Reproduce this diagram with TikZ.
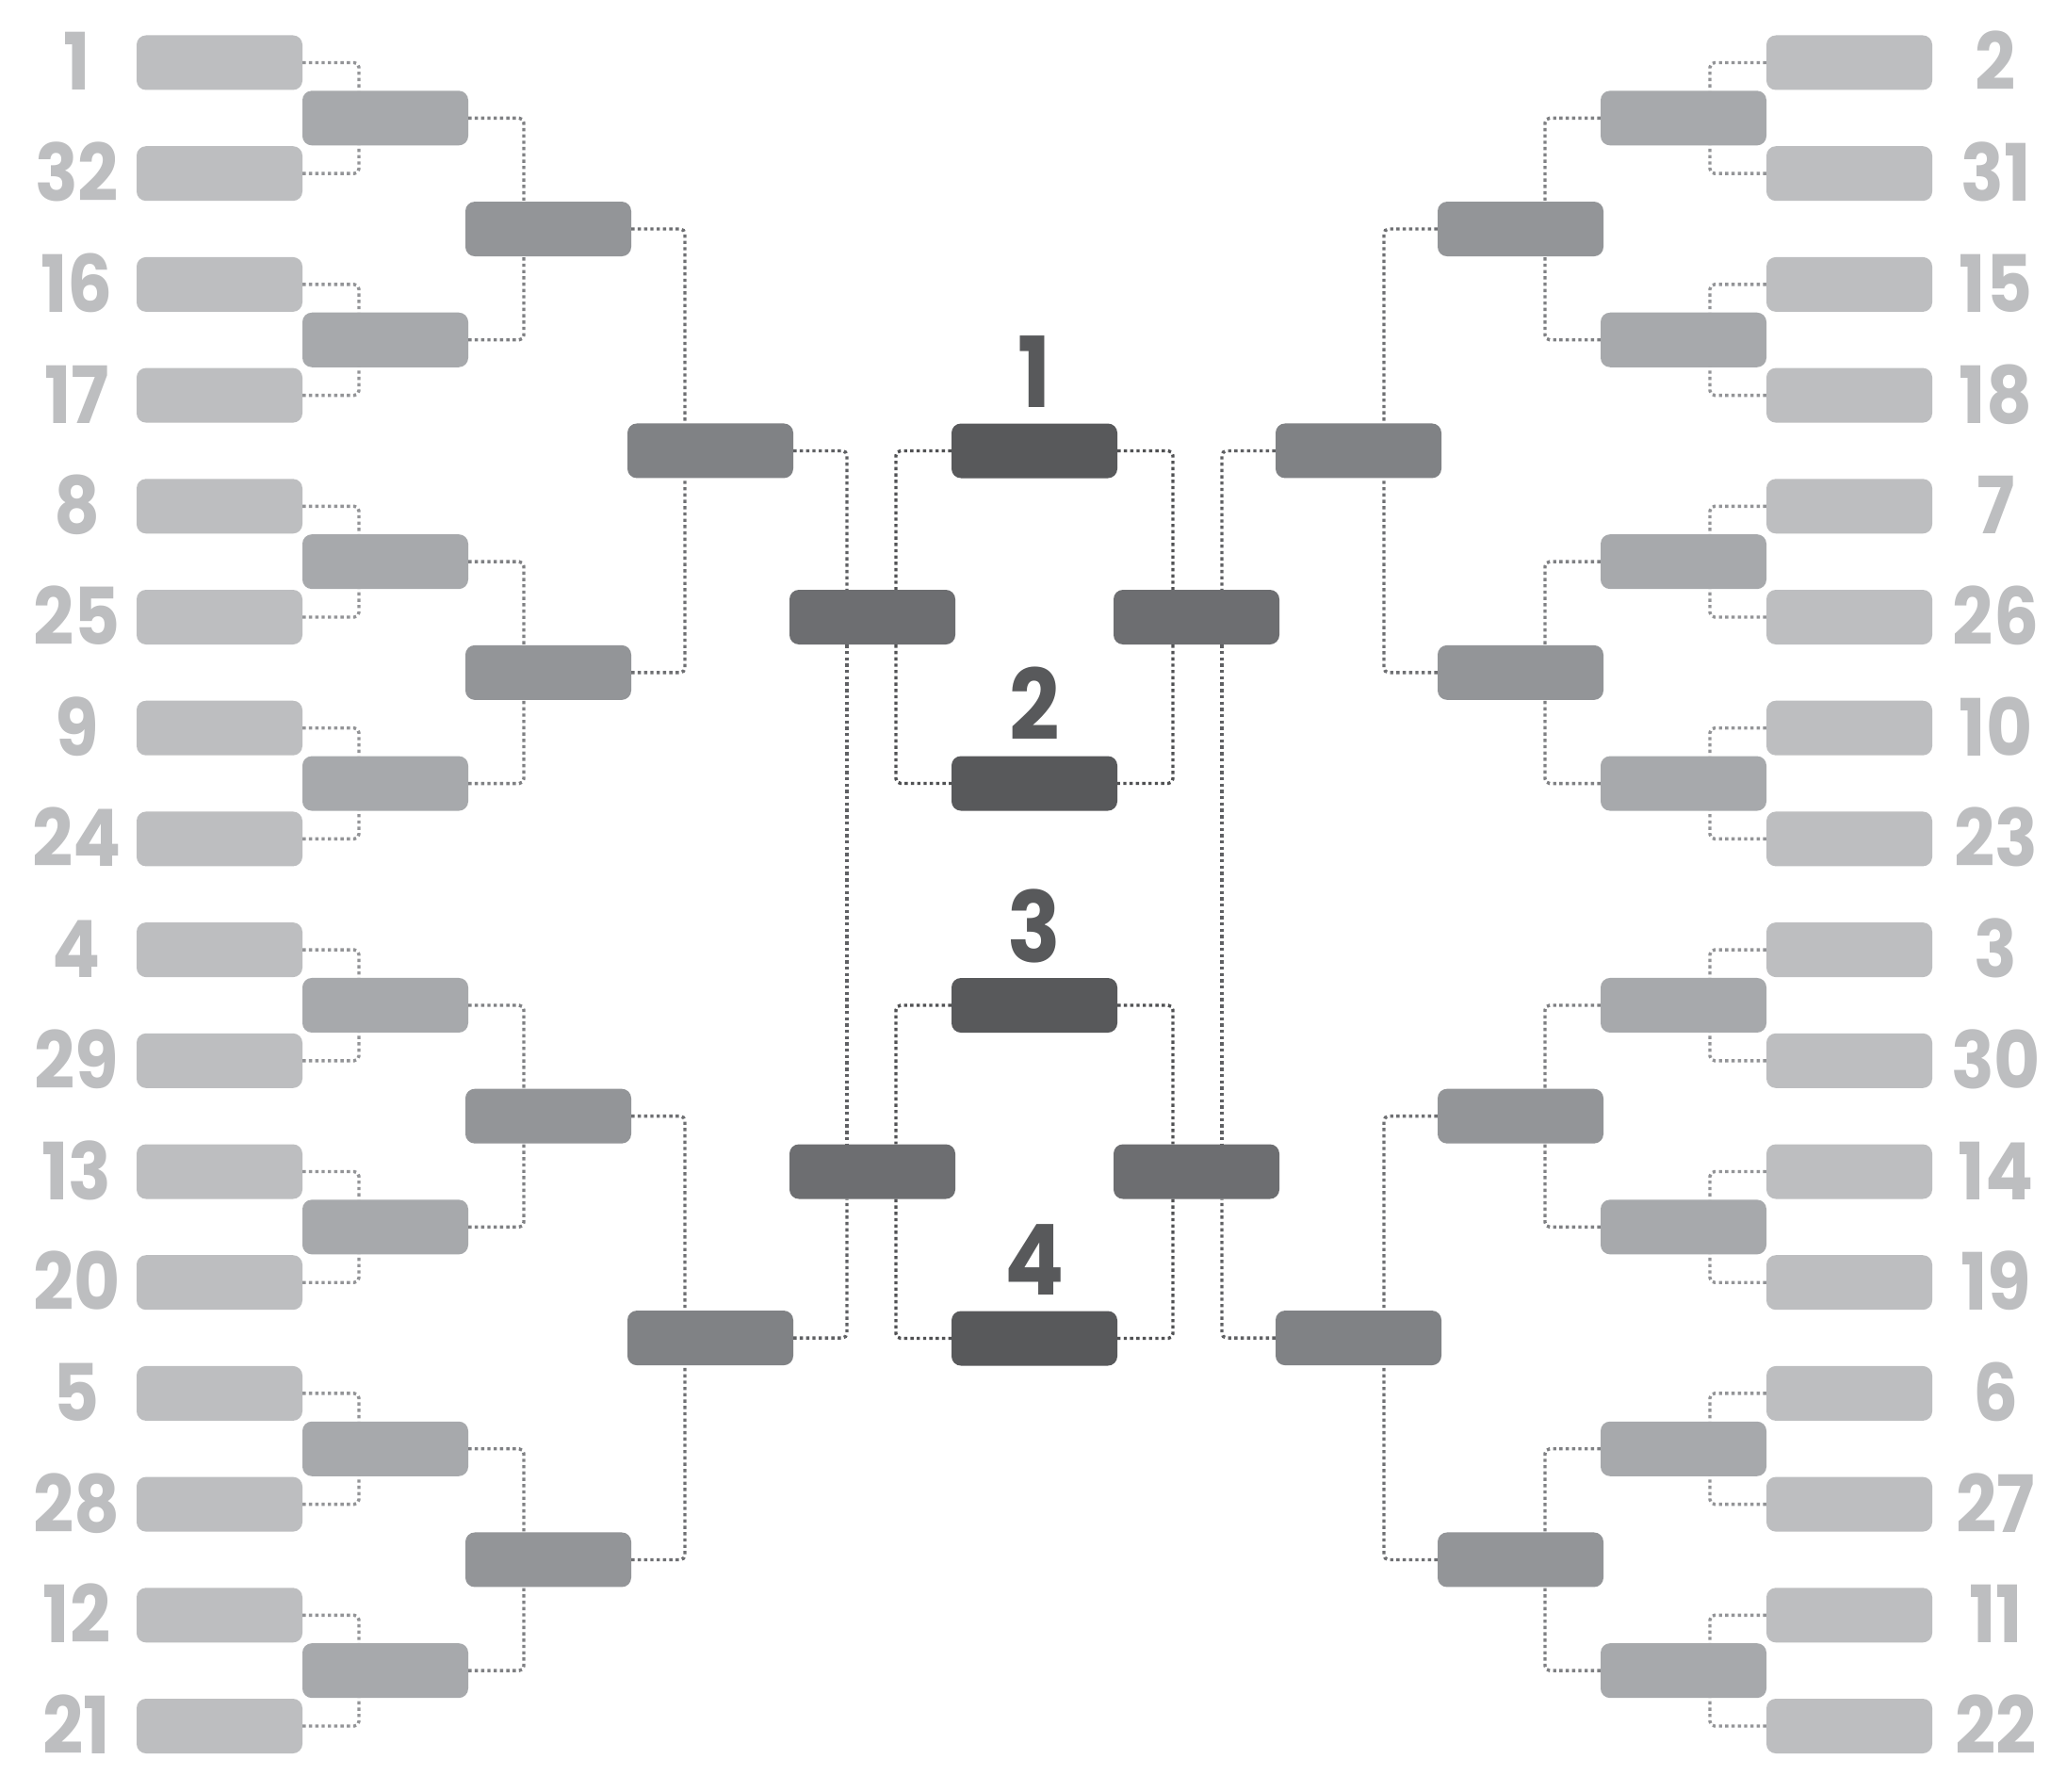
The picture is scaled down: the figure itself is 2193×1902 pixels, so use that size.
\documentclass[tikz,border=0pt]{standalone}
\usepackage{graphicx}
\usepackage{fontspec}
\newfontfamily\numfont{Poppins}
\definecolor{cA}{HTML}{BDBEC0}
\definecolor{cB}{HTML}{A7A9AC}
\definecolor{cC}{HTML}{939598}
\definecolor{cD}{HTML}{808285}
\definecolor{cE}{HTML}{6D6E71}
\definecolor{cF}{HTML}{58595B}
\definecolor{dB}{HTML}{939497}
\definecolor{dC}{HTML}{7F8083}
\definecolor{dD}{HTML}{6E6F72}
\definecolor{dE}{HTML}{5F6063}
\definecolor{dF}{HTML}{505153}
\newcommand{\narrowtxt}[1]{\scalebox{0.9}[1]{#1}}
\begin{document}
\begin{tikzpicture}[x=1pt,y=-1pt,
  box/.style={rectangle, rounded corners=10pt, minimum width=176pt, minimum height=58pt, inner sep=0pt, draw=none},
  conn/.style={line width=3.4pt, dash pattern=on 3.4pt off 3.3pt, rounded corners=5pt},
  seednum/.style={font=\numfont\bfseries\fontsize{84}{84}\selectfont, text=cA, inner sep=0pt, anchor=base},
  finalnum/.style={font=\numfont\bfseries\fontsize{104}{104}\selectfont, text=cF, inner sep=0pt, anchor=base}
]
\fill[white] (0,0) rectangle (2193,1902);
\useasboundingbox (0,0) rectangle (2193,1902);
% round 1 and seeds
\foreach \s [count=\i from 0] in {1,32,16,17,8,25,9,24,4,29,13,20,5,28,12,21} {
  \pgfmathsetmacro\yy{66.5+117.7*\i}
  \node[box, fill=cA] (L1-\i) at (233,\yy) {};
  \node[seednum] (LN-\i) at (81.5,\yy+29.5) {\narrowtxt{\s}};
}
\foreach \s [count=\i from 0] in {2,31,15,18,7,26,10,23,3,30,14,19,6,27,11,22} {
  \pgfmathsetmacro\yy{66.5+117.7*\i}
  \node[box, fill=cA] (R1-\i) at (1963,\yy) {};
  \node[seednum] (RN-\i) at (2118.5,\yy+29.5) {\narrowtxt{\s}};
}
% round 2
\foreach \k in {0,...,7} {
  \pgfmathsetmacro\yy{66.5+117.7*(2*\k+0.5)}
  \node[box, fill=cB] (L2-\k) at (409,\yy) {};
  \node[box, fill=cB] (R2-\k) at (1787,\yy) {};
}
% round 3
\foreach \k in {0,...,3} {
  \pgfmathsetmacro\yy{66.5+117.7*(4*\k+1.5)}
  \node[box, fill=cC] (L3-\k) at (582,\yy) {};
  \node[box, fill=cC] (R3-\k) at (1614,\yy) {};
}
% round 4
\foreach \k in {0,1} {
  \pgfmathsetmacro\yy{66.5+117.7*(8*\k+3.5)}
  \node[box, fill=cD] (L4-\k) at (754,\yy) {};
  \node[box, fill=cD] (R4-\k) at (1442,\yy) {};
}
% round 5
\node[box, fill=cE] (L5-0) at (926,655) {};
\node[box, fill=cE] (L5-1) at (926,1243.5) {};
\node[box, fill=cE] (R5-0) at (1270,655) {};
\node[box, fill=cE] (R5-1) at (1270,1243.5) {};
% finals
\node[box, fill=cF] (F1) at (1098,478.5) {};
\node[box, fill=cF] (F2) at (1098,831.5) {};
\node[box, fill=cF] (F3) at (1098,1067) {};
\node[box, fill=cF] (F4) at (1098,1420.5) {};
\node[finalnum] (T1) at (1098,432.5) {\narrowtxt{1}};
\node[finalnum] (T2) at (1098,785.5) {\narrowtxt{2}};
\node[finalnum] (T3) at (1098,1021) {\narrowtxt{3}};
\node[finalnum] (T4) at (1098,1374.5) {\narrowtxt{4}};
% connectors round 1 -> 2
\foreach \k in {0,...,7} {
  \pgfmathtruncatemacro\a{2*\k}
  \pgfmathtruncatemacro\b{2*\k+1}
  \draw[conn, draw=dB] (L1-\a.east) -| ([xshift=-28pt]L2-\k.north);
  \draw[conn, draw=dB] (L1-\b.east) -| ([xshift=-28pt]L2-\k.south);
  \draw[conn, draw=dB] (R1-\a.west) -| ([xshift=28pt]R2-\k.north);
  \draw[conn, draw=dB] (R1-\b.west) -| ([xshift=28pt]R2-\k.south);
}
% round 2 -> 3
\foreach \k in {0,...,3} {
  \pgfmathtruncatemacro\a{2*\k}
  \pgfmathtruncatemacro\b{2*\k+1}
  \draw[conn, draw=dC] (L2-\a.east) -| ([xshift=-26pt]L3-\k.north);
  \draw[conn, draw=dC] (L2-\b.east) -| ([xshift=-26pt]L3-\k.south);
  \draw[conn, draw=dC] (R2-\a.west) -| ([xshift=26pt]R3-\k.north);
  \draw[conn, draw=dC] (R2-\b.west) -| ([xshift=26pt]R3-\k.south);
}
% round 3 -> 4
\foreach \k in {0,1} {
  \pgfmathtruncatemacro\a{2*\k}
  \pgfmathtruncatemacro\b{2*\k+1}
  \draw[conn, draw=dD] (L3-\a.east) -| ([xshift=-27pt]L4-\k.north);
  \draw[conn, draw=dD] (L3-\b.east) -| ([xshift=-27pt]L4-\k.south);
  \draw[conn, draw=dD] (R3-\a.west) -| ([xshift=27pt]R4-\k.north);
  \draw[conn, draw=dD] (R3-\b.west) -| ([xshift=27pt]R4-\k.south);
}
% round 4 -> 5
\draw[conn, draw=dE] (L4-0.east) -| ([xshift=-27pt]L5-0.north);
\draw[conn, draw=dE] ([xshift=-27pt]L5-0.south) -- ([xshift=-27pt]L5-1.north);
\draw[conn, draw=dE] (L4-1.east) -| ([xshift=-27pt]L5-1.south);
\draw[conn, draw=dE] (R4-0.west) -| ([xshift=27pt]R5-0.north);
\draw[conn, draw=dE] ([xshift=27pt]R5-0.south) -- ([xshift=27pt]R5-1.north);
\draw[conn, draw=dE] (R4-1.west) -| ([xshift=27pt]R5-1.south);
% round 5 -> finals
\draw[conn, draw=dF] (F1.west) -| ([xshift=25pt]L5-0.north);
\draw[conn, draw=dF] ([xshift=25pt]L5-0.south) |- (F2.west);
\draw[conn, draw=dF] (F3.west) -| ([xshift=25pt]L5-1.north);
\draw[conn, draw=dF] ([xshift=25pt]L5-1.south) |- (F4.west);
\draw[conn, draw=dF] (F1.east) -| ([xshift=-25pt]R5-0.north);
\draw[conn, draw=dF] ([xshift=-25pt]R5-0.south) |- (F2.east);
\draw[conn, draw=dF] (F3.east) -| ([xshift=-25pt]R5-1.north);
\draw[conn, draw=dF] ([xshift=-25pt]R5-1.south) |- (F4.east);
\end{tikzpicture}
\end{document}
